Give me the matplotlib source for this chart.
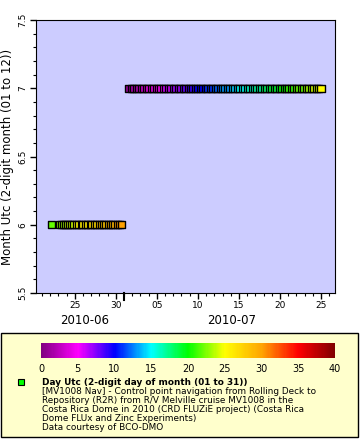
import datetime as dt
import numpy as np
import matplotlib
matplotlib.use("Agg")
import matplotlib.pyplot as plt
import matplotlib.dates as mdates
from matplotlib.colors import LinearSegmentedColormap
from matplotlib.patches import Rectangle

# fractional day-of-month of each sample
june_days = [22.2, 23.1, 23.4, 23.6, 23.9, 24.1, 24.4, 24.6, 24.9, 25.2, 25.5,
             25.8, 26.0, 26.3, 26.6, 26.9, 27.1, 27.4, 27.7, 28.0, 28.3, 28.5,
             28.8, 29.1, 29.4, 29.6, 29.9, 30.2, 30.5, 30.7]
july_days = [1.6, 1.9, 2.2, 2.5, 2.8, 3.1, 3.4, 3.7, 4.0, 4.3, 4.6, 4.9, 5.2,
             5.5, 5.8, 6.1, 6.4, 6.7, 7.0, 7.3, 7.6, 7.9, 8.2, 8.5, 8.8, 9.1,
             9.4, 9.7, 10.0, 10.3, 10.6, 10.9, 11.2, 11.5, 11.8, 12.1, 12.4,
             12.7, 13.0, 13.3, 13.6, 13.9, 14.2, 14.5, 14.8, 15.1, 15.4, 15.7,
             16.0, 16.3, 16.6, 16.9, 17.2, 17.5, 17.8, 18.1, 18.4, 18.7, 19.0,
             19.3, 19.6, 19.9, 20.2, 20.5, 20.8, 21.1, 21.4, 21.7, 22.0, 22.3,
             22.6, 22.9, 23.2, 23.5, 23.8, 24.1, 24.4, 24.7, 25.0]
months = [6, 7]

cmap = LinearSegmentedColormap.from_list("rainbow2", [
    (0.0, "#800080"), (0.125, "#ff00ff"), (0.25, "#0000ff"), (0.375, "#00ffff"),
    (0.5, "#00ff00"), (0.625, "#ffff00"), (0.75, "#ffa500"), (0.875, "#ff0000"),
    (1.0, "#800000")])

fig = plt.figure(figsize=(3.6, 4.4), dpi=100)
ax = fig.add_axes([36/360, 1-293/440, 299/360, 273/440])
ax.set_facecolor("#ccccff")

for m, days in zip(months, [june_days, july_days]):
    t = [dt.datetime(2010, m, 1) + dt.timedelta(days=d - 1) for d in days]
    c = [int(d) for d in days]
    ax.scatter(t, [m] * len(t), c=c, cmap=cmap, vmin=0, vmax=40, marker="s",
               s=26, edgecolors="black", linewidths=1.0, zorder=3)

ax.set_xlim(dt.datetime(2010, 6, 20, 6, 30), dt.datetime(2010, 7, 26, 17))
ax.set_ylim(5.5, 7.5)
ax.xaxis.set_major_locator(mdates.DayLocator(bymonthday=[5, 10, 15, 20, 25, 30]))
ax.xaxis.set_major_formatter(mdates.DateFormatter("%d"))
ax.xaxis.set_minor_locator(mdates.DayLocator())
ax.set_yticks([5.5, 6, 6.5, 7, 7.5])
ax.set_yticklabels(["5.5", "6", "6.5", "7", "7.5"], rotation=90, va="center")
ax.yaxis.set_minor_locator(matplotlib.ticker.MultipleLocator(0.1))
ax.tick_params(which="major", length=4, width=1, labelsize=6.5, pad=2)
ax.tick_params(which="minor", length=2, width=0.8)
ax.axvline(dt.datetime(2010, 7, 1), ymin=-0.025, ymax=0, color="black", lw=1.5,
           clip_on=False)
ax.set_ylabel("Month Utc (2-digit month (01 to 12))", fontsize=8.5, labelpad=3)
ax.text(0.164, -0.102, "2010-06", transform=ax.transAxes, ha="center",
        va="center", fontsize=8.5)
ax.text(0.655, -0.102, "2010-07", transform=ax.transAxes, ha="center",
        va="center", fontsize=8.5)

# legend box
fig.patches.append(Rectangle((1/360, 3/440), 357/360, 104/440,
                             transform=fig.transFigure, facecolor="#ffffcc",
                             edgecolor="black", lw=1, zorder=-5))
cax = fig.add_axes([41/360, 1-358/440, 294/360, 15/440])
cax.set_zorder(2)
sm = matplotlib.cm.ScalarMappable(cmap=cmap, norm=plt.Normalize(0, 40))
cb = fig.colorbar(sm, cax=cax, orientation="horizontal", ticks=range(0, 41, 5))
cb.outline.set_linewidth(0)
cax.tick_params(labelsize=7, length=0, pad=4)

fig.patches.append(Rectangle((18/360, 1-385/440), 6/360, 6/440,
                             transform=fig.transFigure, facecolor="#00ff00",
                             edgecolor="black", lw=0.8, zorder=1))
fig.text(42/360, 1-382/440, "Day Utc (2-digit day of month (01 to 31))",
         fontsize=6.4, fontweight="bold", va="center")
lines = ["[MV1008 Nav] - Control point navigation from Rolling Deck to",
         "Repository (R2R) from R/V Melville cruise MV1008 in the",
         "Costa Rica Dome in 2010 (CRD FLUZiE project) (Costa Rica",
         "Dome FLUx and Zinc Experiments)",
         "Data courtesy of BCO-DMO"]
for i, s in enumerate(lines):
    fig.text(42/360, 1-(391 + 9*i)/440, s, fontsize=6.4, va="center")

fig.savefig("out.png", dpi=100)
